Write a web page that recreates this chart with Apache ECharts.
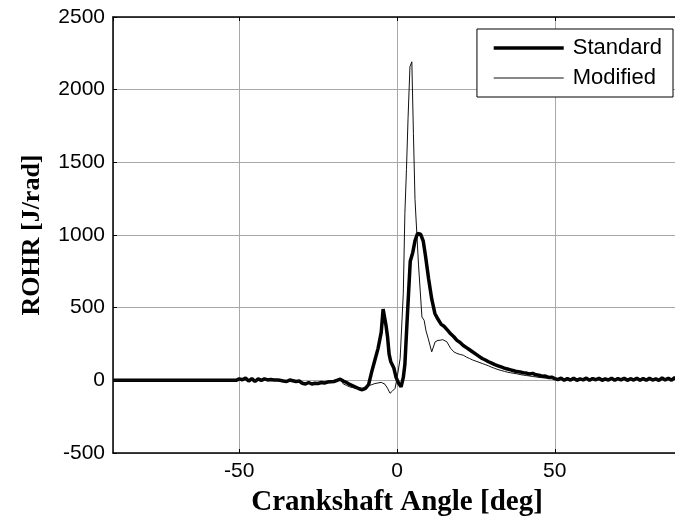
<!DOCTYPE html>
<html>
<head>
<meta charset="utf-8">
<script src="https://cdn.jsdelivr.net/npm/echarts@6/dist/echarts.min.js"></script>
<style>
html,body{margin:0;padding:0;background:#fff;overflow:hidden;width:675px;height:522px;}
#chart{width:682px;height:522px;}
</style>
</head>
<body>
<div id="chart"></div>
<script>
// ---- data ----
const xTickLabels = [-50, 0, 50];
const yTickLabels = [-500, 0, 500, 1000, 1500, 2000, 2500];

const stdAngle = [-90, -51, -50, -49, -48, -47, -46, -45, -44, -43, -42, -41, -40, -39, -38, -37, -36, -35, -34, -33, -32, -31, -30, -29, -28, -27, -26, -25, -24, -23, -22, -21, -20, -19, -18, -17, -16, -15, -14, -13, -12, -11, -10, -9, -8, -7, -6, -5, -4.4, -3.5, -3, -2.5, -2, -1, -0.3, 0.5, 1.3, 2, 2.5, 3.3, 4.2, 5, 5.7, 6.5, 7.5, 8.3, 9, 10, 11, 12, 13, 14, 15, 16, 17, 18, 19, 20, 21, 22, 23, 24, 25, 26, 27, 28, 29, 30, 31, 32, 33, 34, 35, 36, 37, 38, 39, 40, 41, 42, 43, 44, 45, 46, 47, 48, 49, 50, 51, 52, 53, 54, 55, 56, 57, 58, 59, 60, 61, 62, 63, 64, 65, 66, 67, 68, 69, 70, 71, 72, 73, 74, 75, 76, 77, 78, 79, 80, 81, 82, 83, 84, 85, 86, 87, 88, 89, 90];
const stdRohr = [0, 0, 10, 4, 15, -5, 12, -8, 10, 0, 10, 3, 5, 2, 3, 0, -5, -8, 2, -3, -8, -5, -20, -25, -15, -25, -20, -22, -15, -18, -12, -10, -8, 0, 8, -5, -15, -28, -38, -48, -58, -65, -55, -30, 60, 140, 220, 330, 490, 380, 300, 180, 130, 85, 20, -20, -45, 20, 110, 450, 820, 880, 960, 1010, 1005, 960, 860, 700, 560, 460, 420, 385, 370, 345, 320, 300, 275, 260, 240, 225, 210, 195, 180, 165, 150, 140, 128, 118, 108, 100, 92, 84, 78, 72, 66, 60, 58, 52, 50, 44, 48, 38, 35, 28, 30, 20, 22, 12, 5, 15, 0, 12, 2, 14, 0, 10, 3, 15, 0, 12, 4, 14, 0, 10, 2, 15, 0, 12, 3, 14, 0, 11, 2, 15, 1, 12, 0, 14, 2, 10, 0, 16, 3, 14, 1, 18, 2, 10];

const modAngle = [-90, -51, -50, -49, -48, -47, -46, -45, -44, -43, -42, -41, -40, -39, -38, -37, -36, -35, -34, -33, -32, -31, -30, -29, -28, -27, -26, -25, -24, -23, -22, -21, -20, -19, -18, -17, -16, -15, -14, -13, -12, -11, -10, -9, -8, -7, -6, -5, -4.5, -3.8, -3, -2.2, -1.5, -0.6, 0, 1, 2, 2.5, 3, 3.5, 4.1, 4.7, 5.2, 5.7, 6.8, 7.9, 8.6, 9.2, 9.9, 11, 12.1, 13, 13.7, 14.5, 15.8, 17, 18, 19, 20, 21, 22, 23, 24, 25, 26, 27, 28, 29, 30, 31, 32, 33, 34, 35, 36, 37, 38, 39, 40, 41, 42, 43, 44, 45, 46, 47, 48, 49, 50, 51, 52, 53, 54, 55, 56, 57, 58, 59, 60, 61, 62, 63, 64, 65, 66, 67, 68, 69, 70, 71, 72, 73, 74, 75, 76, 77, 78, 79, 80, 81, 82, 83, 84, 85, 86, 87, 88, 89, 90];
const modRohr = [0, 0, 8, 5, 12, -3, 10, -6, 8, 0, 8, 3, 5, 2, 2, 0, -4, -7, 2, -3, -7, -5, -18, -22, -15, -22, -18, -20, -15, -16, -12, -10, -8, 0, 5, -25, -35, -45, -50, -55, -58, -55, -45, -36, -30, -22, -18, -14, -12, -27, -55, -89, -75, -55, 14, 150, 600, 1150, 1450, 1800, 2158, 2192, 1700, 1246, 800, 436, 413, 340, 287, 196, 265, 275, 276, 280, 265, 220, 196, 185, 178, 173, 160, 150, 140, 132, 124, 116, 108, 100, 90, 82, 74, 68, 62, 56, 52, 48, 45, 40, 36, 33, 30, 26, 24, 20, 18, 15, 14, 12, 10, 4, 12, 0, 10, 2, 12, 0, 8, 3, 12, 0, 10, 3, 12, 0, 8, 2, 12, 0, 10, 3, 12, 0, 9, 2, 12, 1, 10, 0, 12, 2, 8, 0, 12, 2, 10, 1, 14, 2, 8];

const xMin = -90, xMax = 90;
const yMin = -500, yMax = 2500;

function zip(a, b) { return a.map((v, i) => [v, b[i]]); }

const chart = echarts.init(document.getElementById('chart'), null, {renderer: 'canvas'});
const sans = 'Liberation Sans, Arial, sans-serif';
const serif = 'Liberation Serif, Times New Roman, serif';

const gridLine = {show: true, lineStyle: {color: '#a8a8a8', width: 1}};
const axLine = {show: true, onZero: false, lineStyle: {color: '#000', width: 1.5}};
const tick = {show: true, inside: true, length: 4, lineStyle: {color: '#000', width: 1}};

chart.setOption({
  animation: false,
  backgroundColor: '#fff',
  grid: {left: 113, right: 1, top: 17, bottom: 67, containLabel: false},
  legend: {
    orient: 'vertical', right: 9, top: 29,
    backgroundColor: '#fff', borderColor: '#000', borderWidth: 1,
    padding: [8, 11, 8, 15], itemGap: 8,
    itemWidth: 70, itemHeight: 16,
    itemStyle: {color: 'rgba(0,0,0,0)', borderWidth: 0},
    textStyle: {fontFamily: sans, fontSize: 22, color: '#000', padding: [0, 0, 0, 4]},
    data: [
      {name: 'Standard', lineStyle: {width: 3.5, color: '#000'}, itemStyle: {color: 'rgba(0,0,0,0)', borderWidth: 0}},
      {name: 'Modified', lineStyle: {width: 1, color: '#111'}, itemStyle: {color: 'rgba(0,0,0,0)', borderWidth: 0}}
    ]
  },
  xAxis: [{
    type: 'value', min: xMin, max: xMax, splitNumber: 3,
    name: 'Crankshaft Angle [deg]', nameLocation: 'middle', nameGap: 35,
    nameTextStyle: {fontFamily: serif, fontWeight: 'bold', fontSize: 29, color: '#000'},
    axisLine: axLine, axisTick: tick, splitLine: gridLine,
    axisLabel: {fontFamily: sans, fontSize: 21, color: '#000', margin: 8,
      showMinLabel: false, showMaxLabel: false,
      formatter: v => xTickLabels.includes(v) ? String(v) : ''}
  }, {
    type: 'value', position: 'top', min: xMin, max: xMax, splitNumber: 3,
    axisLine: axLine, axisTick: tick, splitLine: {show: false}, axisLabel: {show: false}
  }],
  yAxis: [{
    type: 'value', min: yMin, max: yMax, interval: 500,
    name: 'ROHR [J/rad]', nameLocation: 'middle', nameGap: 68,
    nameTextStyle: {fontFamily: serif, fontWeight: 'bold', fontSize: 26, color: '#000'},
    axisLine: axLine, axisTick: tick, splitLine: gridLine,
    axisLabel: {fontFamily: sans, fontSize: 21, color: '#000', margin: 8,
      formatter: v => yTickLabels.includes(v) ? String(v) : ''}
  }, {
    type: 'value', position: 'right', min: yMin, max: yMax, interval: 500,
    axisLine: axLine, axisTick: tick, splitLine: {show: false}, axisLabel: {show: false}
  }],
  series: [{
    name: 'Standard', type: 'line', data: zip(stdAngle, stdRohr),
    showSymbol: false, symbol: 'none', smooth: false,
    lineStyle: {color: '#000', width: 3.5}, itemStyle: {color: '#000'}
  }, {
    name: 'Modified', type: 'line', data: zip(modAngle, modRohr),
    showSymbol: false, symbol: 'none', smooth: false,
    lineStyle: {color: '#111', width: 1}, itemStyle: {color: '#111'}
  }]
});
</script>
</body>
</html>
